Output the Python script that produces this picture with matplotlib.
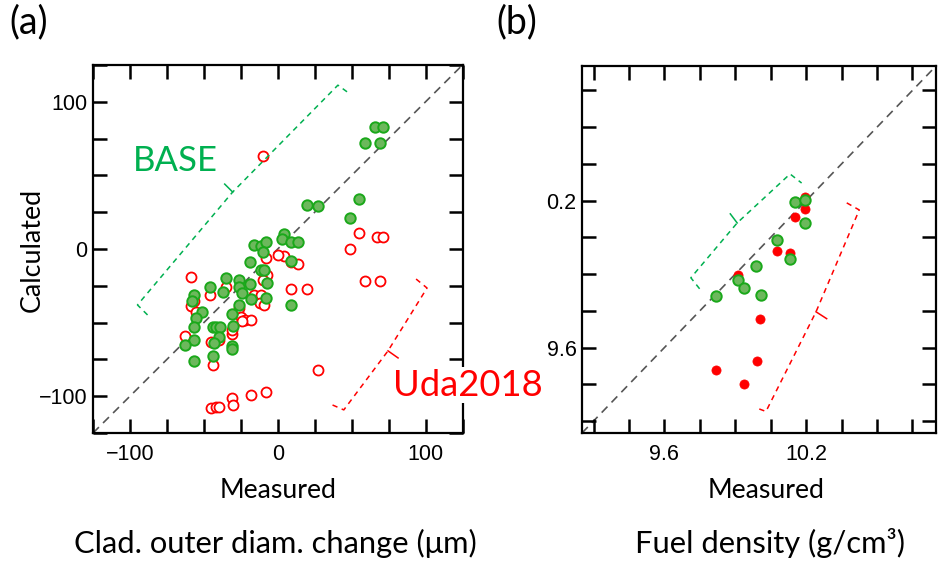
import matplotlib
matplotlib.use("Agg")
import matplotlib.pyplot as plt
from matplotlib.ticker import FixedLocator, FuncFormatter

# ---------------- data: panel (a) ----------------
base_a_x = [66, 71, 59, 69, 20, 27, 55, 49, 4, 3, 9, 14, 9, 9, -16, -11, -8, -10, -19, -11, -9,
            -35, -26, -19, -7, -46, -37, -26, -24, -18, -8, -57, -58, -26, -51, -31, -55, -30,
            -44, -42, -39, -57, -40, -57, -43, -63, -31, -31, -44, -57]
base_a_y = [83, 83, 72, 72, 30, 29, 34, 21, 10, 7, 5, 5, -8, -38, 3, 2, 5, -2, -9, -14, -14,
            -20, -21, -24, -23, -26, -29, -26, -30, -34, -33, -31, -35, -38, -43, -44, -47, -52,
            -53, -53, -53, -53, -60, -62, -64, -65, -66, -68, -73, -76]
uda_a_x = [-10, 55, 49, 67, 71, 59, 69, 27, 4, 9, 14, 9, 20, -7, -59, -8, -10, -35, -46, -57,
           -59, -55, -26, -25, -22, -18, -16, -11, -12, -9, -31, -31, -63, -45, -40, -44, -45,
           -42, -40, -31, -30, -18, -8, 0, -24]
uda_a_y = [63, 11, 0, 8, 8, -22, -22, -82, -5, -9, -10, -27, -27, -18, -19, -6, -21, -26, -31,
           -35, -39, -43, -40, -46, -48, -48, -31, -31, -37, -38, -58, -55, -59, -63, -62, -79,
           -108, -107, -107, -101, -106, -99, -97, -4, -49]

# ---------------- data: panel (b) ----------------
base_b_x = [10.154, 10.194, 10.194, 10.075, 10.133, 9.988, 9.913, 9.936, 10.007, 9.817]
base_b_y = [10.196, 10.203, 10.110, 10.040, 9.962, 9.934, 9.874, 9.845, 9.816, 9.809]
uda_b_x = [10.194, 10.194, 10.154, 10.075, 10.133, 9.913, 10.004, 9.990, 9.817, 9.936]
uda_b_y = [10.216, 10.166, 10.135, 9.995, 9.986, 9.897, 9.718, 9.544, 9.507, 9.452]

# axis ranges / ticks
a_lim = (-125, 125)
a_ticks = [-125 + 25 * i for i in range(11)]
a_labels = {-100: "\u2212100", 0: "0", 100: "100"}
b_lim = (9.251, 10.75)
b_ticks = [round(9.3 + 0.15 * i, 2) for i in range(10)]
b_xlabels = {9.6: "9.6", 10.2: "10.2"}
b_ylabels = {9.6: "9.6", 10.2: "0.2"}

# bracket annotations (data units)
brk_base_a = [(-88.1, -44.8), (-94.9, -38.0), (-30.5, 38.7), (40.7, 111.3), (48.1, 105.9)]
brk_base_a_notch = [(-30.5, 38.7), (-35.9, 44.1)]
brk_uda_a = [(93.6, -20.4), (101.0, -26.5), (74.6, -69.2), (44.7, -109.3), (35.3, -105.2)]
brk_uda_a_notch = [(74.6, -69.2), (81.4, -74.0)]
brk_base_b = [(9.749, 9.840), (9.712, 9.885), (9.908, 10.109), (10.132, 10.309), (10.181, 10.272)]
brk_base_b_notch = [(9.908, 10.109), (9.879, 10.146)]
brk_uda_b = [(10.372, 10.191), (10.425, 10.162), (10.242, 9.746), (10.030, 9.339), (9.985, 9.355)]
brk_uda_b_notch = [(10.242, 9.746), (10.287, 9.718)]

GREEN_TXT = "#00b050"
RED = "#ff0000"
G_FILL = "#6cb85c"
G_EDGE = "#1aa81a"
TEXTFONT = ["Lato", "DejaVu Sans"]
TICKFONT = ["Liberation Sans", "DejaVu Sans"]

W, H = 938, 563
fig = plt.figure(figsize=(W / 100, H / 100), dpi=100)
fig.patch.set_facecolor("white")

def fx(px):
    return px / W

def fy(py):
    return 1 - py / H

ax_a = fig.add_axes([fx(93), fy(433), (462.5 - 93) / W, (433 - 65) / H])
ax_b = fig.add_axes([fx(582), fy(433), (936 - 582) / W, (433 - 66) / H])


def style_axis(ax, lim, ticks, xlabels, ylabels):
    ax.set_xlim(*lim)
    ax.set_ylim(*lim)
    ax.xaxis.set_major_locator(FixedLocator(ticks))
    ax.yaxis.set_major_locator(FixedLocator(ticks))
    def fmt_factory(d):
        def f(v, pos):
            for k, s in d.items():
                if abs(v - k) < 1e-6:
                    return s
            return ""
        return FuncFormatter(f)
    ax.xaxis.set_major_formatter(fmt_factory(xlabels))
    ax.yaxis.set_major_formatter(fmt_factory(ylabels))
    ax.tick_params(direction="in", top=True, right=True, length=10, width=1.8,
                   labelsize=15.5, color="black")
    ax.tick_params(axis="x", pad=8)
    ax.tick_params(axis="y", pad=4)
    for lab in ax.get_xticklabels() + ax.get_yticklabels():
        lab.set_family(TICKFONT)
    for s in ax.spines.values():
        s.set_linewidth(1.6)
    ax.plot(lim, lim, ls=(0, (5, 3.5)), color="#555555", lw=1.2, zorder=1)


style_axis(ax_a, a_lim, a_ticks, a_labels, a_labels)
style_axis(ax_b, b_lim, b_ticks, b_xlabels, b_ylabels)

# panel (a) points
ax_a.plot(uda_a_x, uda_a_y, "o", ms=7.2, mfc="white", mec=RED, mew=1.3, ls="none", zorder=2)
ax_a.plot(base_a_x, base_a_y, "o", ms=7.5, mfc=G_FILL, mec=G_EDGE, mew=1.4, ls="none", zorder=3)
# panel (b) points
ax_b.plot(uda_b_x, uda_b_y, "o", ms=6.6, mfc=RED, mec=RED, mew=0.5, ls="none", zorder=2)
ax_b.plot(base_b_x, base_b_y, "o", ms=7.5, mfc=G_FILL, mec=G_EDGE, mew=1.4, ls="none", zorder=3)


def draw_brk(ax, pts, notch, color):
    ax.plot([p[0] for p in pts], [p[1] for p in pts], ls=(0, (3.5, 3)), color=color, lw=1.1,
            clip_on=False, zorder=4)
    ax.plot([p[0] for p in notch], [p[1] for p in notch], ls="-", color=color, lw=1.1,
            clip_on=False, zorder=4)


draw_brk(ax_a, brk_base_a, brk_base_a_notch, GREEN_TXT)
draw_brk(ax_a, brk_uda_a, brk_uda_a_notch, RED)
draw_brk(ax_b, brk_base_b, brk_base_b_notch, GREEN_TXT)
draw_brk(ax_b, brk_uda_b, brk_uda_b_notch, RED)

# texts
fig.text(fx(9), fy(22), "(a)", fontsize=27, family=TEXTFONT, va="center", ha="left")
fig.text(fx(496), fy(22), "(b)", fontsize=27, family=TEXTFONT, va="center", ha="left")
fig.text(fx(278), fy(498), "Measured", fontsize=19.2, family=TEXTFONT, ha="center", va="baseline")
fig.text(fx(766), fy(498), "Measured", fontsize=19.2, family=TEXTFONT, ha="center", va="baseline")
fig.text(fx(32), fy(250), "Calculated", fontsize=19.4, family=TEXTFONT, ha="center", va="center",
         rotation=90)
fig.text(fx(275.5), fy(553), "Clad. outer diam. change (\u03bcm)", fontsize=22.2, family=TEXTFONT,
         ha="center", va="baseline")
fig.text(fx(770), fy(553), "Fuel density (g/cm\u00b3)", fontsize=22.2, family=TEXTFONT,
         ha="center", va="baseline")
fig.text(fx(133), fy(161), "BASE", fontsize=25, family=TEXTFONT, color=GREEN_TXT,
         ha="left", va="center")
fig.text(fx(393), fy(385), "Uda2018", fontsize=26.2, family=TEXTFONT, color=RED,
         ha="left", va="center",
         bbox=dict(facecolor="white", edgecolor="none", pad=1))

fig.savefig("out.png", dpi=100)
